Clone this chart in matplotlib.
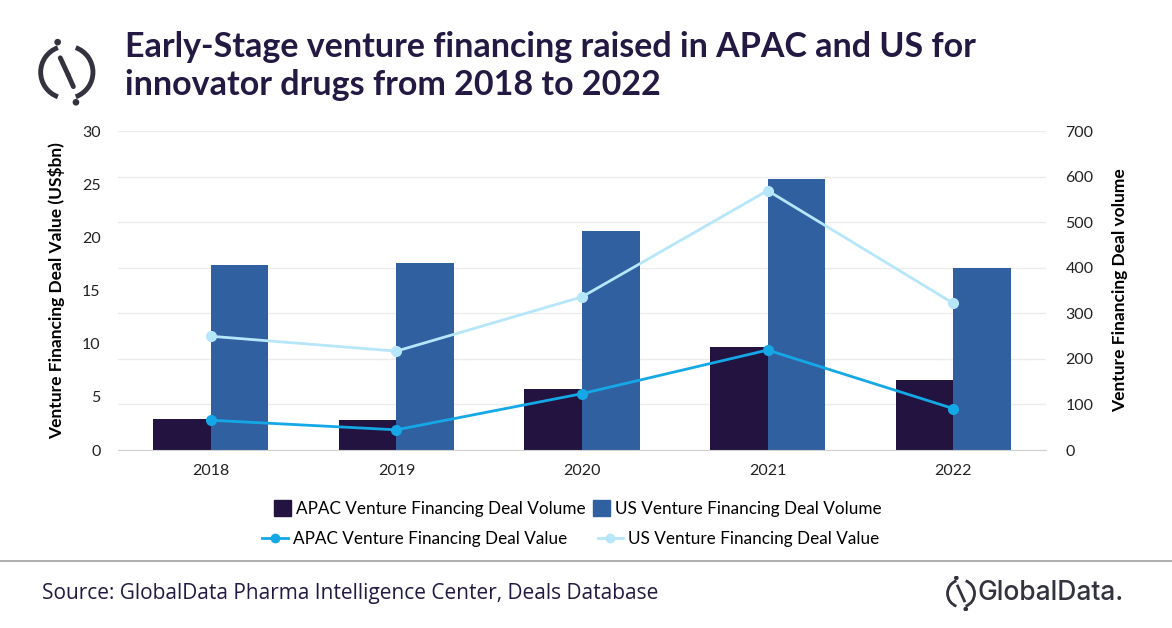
import numpy as np
import matplotlib.pyplot as plt
from matplotlib.patches import Arc, Circle
from matplotlib.lines import Line2D

years = ['2018', '2019', '2020', '2021', '2022']
# deal volume (number of deals) - bars, right axis
apac_volume = [68, 66, 134, 226, 154]
us_volume = [406, 410, 481, 595, 400]
# deal value (US$bn) - lines, left axis
apac_value = [2.8, 1.9, 5.3, 9.4, 3.9]
us_value = [10.7, 9.3, 14.4, 24.4, 13.8]

c_apac_bar = '#231340'
c_us_bar = '#3160a1'
c_apac_line = '#14a8e6'
c_us_line = '#b5e6fa'
c_title = '#231942'

plt.rcParams['font.family'] = ['Lato', 'DejaVu Sans']

fig = plt.figure(figsize=(11.72, 6.28), dpi=100)
ax = fig.add_axes([0.1007, 0.2834, 0.7918, 0.508])
ax2 = ax.twinx()

x = np.arange(len(years))
w = 0.31
ax2.bar(x - w / 2, apac_volume, w, color=c_apac_bar, zorder=2)
ax2.bar(x + w / 2, us_volume, w, color=c_us_bar, zorder=2)
ax2.set_ylim(0, 700)
ax2.set_yticks(range(0, 701, 100))

# lines on top of the bars
ax.set_zorder(ax2.get_zorder() + 1)
ax.patch.set_visible(False)
ax.plot(x, apac_value, color=c_apac_line, lw=2, marker='o', ms=7, zorder=3)
ax.plot(x, us_value, color=c_us_line, lw=2, marker='o', ms=7, zorder=3)
ax.set_ylim(0, 30)
ax.set_yticks(range(0, 31, 5))
ax.set_xlim(-0.5, 4.5)
ax.set_xticks(x)
ax.set_xticklabels(years)

for a in (ax, ax2):
    for s in a.spines.values():
        s.set_visible(False)
    a.tick_params(length=0, labelsize=11.5, colors='#222222')
ax.spines['bottom'].set_visible(True)
ax.spines['bottom'].set_color('#d0d0d0')
ax2.yaxis.grid(True, color='#ececec', lw=1, zorder=0)
ax2.set_axisbelow(True)
ax.tick_params(axis='x', pad=10)
ax.tick_params(axis='y', pad=12.5)
ax2.tick_params(axis='y', pad=14)

ax.set_ylabel('Venture Financing Deal Value (US$bn)', fontsize=12.5, fontweight='bold')
ax.yaxis.set_label_coords(-0.057, 0.5)
ax2.set_ylabel('Venture Financing Deal volume', fontsize=12.5, fontweight='bold')
ax2.yaxis.set_label_coords(1.071, 0.5)

# title
fig.text(0.107, 0.895, 'Early-Stage venture financing raised in APAC and US for\ninnovator drugs from 2018 to 2022',
         fontsize=24.5, fontweight='bold', color=c_title, va='center', ha='left', linespacing=1.2)

# logo top-left
lax = fig.add_axes([0.028, 0.83, 0.058, 0.11])
lax.set_xlim(-1.3, 1.3)
lax.set_ylim(-1.3, 1.3)
lax.set_aspect('equal')
lax.axis('off')
lax.add_patch(Arc((0, 0), 2, 2, theta1=110, theta2=250, lw=3.5, color='#333340'))
lax.add_patch(Arc((0, 0), 2, 2, theta1=-70, theta2=70, lw=3.5, color='#333340'))
lax.plot([-0.25, 0.05], [0.55, -0.1], color='#333340', lw=3.5, solid_capstyle='round')
lax.plot([0.05, 0.25], [-0.1, -0.55], color='#333340', lw=3.5, solid_capstyle='round')
lax.add_patch(Circle((-0.35, 1.15), 0.1, color='#333340'))
lax.add_patch(Circle((0.35, -1.15), 0.1, color='#333340'))

# legend, two rows
handles1 = [plt.Rectangle((0, 0), 1, 1, color=c_apac_bar),
            plt.Rectangle((0, 0), 1, 1, color=c_us_bar)]
labels1 = ['APAC Venture Financing Deal Volume', 'US Venture Financing Deal Volume']
handles2 = [Line2D([], [], color=c_apac_line, lw=2, marker='o', ms=6),
            Line2D([], [], color=c_us_line, lw=2, marker='o', ms=6)]
labels2 = ['APAC Venture Financing Deal Value', 'US Venture Financing Deal Value']
fig.legend(handles1, labels1, loc='center', bbox_to_anchor=(0.493, 0.19), ncol=2, frameon=False,
           fontsize=12.3, handlelength=1.0, handleheight=1.0, handletextpad=0.3, columnspacing=0.4)
fig.legend(handles2, labels2, loc='center', bbox_to_anchor=(0.487, 0.142), ncol=2, frameon=False,
           fontsize=12.3, handlelength=1.5, handletextpad=0.3, columnspacing=1.8)

# separator and footer
fig.add_artist(Line2D([0, 1], [0.107, 0.107], transform=fig.transFigure, color='#a0a0a0', lw=1.2))
fig.text(0.036, 0.055, 'Source: GlobalData Pharma Intelligence Center, Deals Database',
         fontsize=15, color=c_title, va='center', ha='left', family=['Open Sans', 'DejaVu Sans'])

gax = fig.add_axes([0.805, 0.025, 0.03, 0.06])
gax.set_xlim(-1.3, 1.3)
gax.set_ylim(-1.3, 1.3)
gax.set_aspect('equal')
gax.axis('off')
gax.add_patch(Arc((0, 0), 2, 2, theta1=110, theta2=250, lw=2, color='#333340'))
gax.add_patch(Arc((0, 0), 2, 2, theta1=-70, theta2=70, lw=2, color='#333340'))
gax.plot([-0.25, 0.25], [0.55, -0.55], color='#333340', lw=2)
gax.add_patch(Circle((-0.35, 1.15), 0.12, color='#333340'))
gax.add_patch(Circle((0.35, -1.15), 0.12, color='#333340'))
fig.text(0.834, 0.055, 'GlobalData.', fontsize=19, color='#333340', va='center', ha='left',
         family=['Inter', 'DejaVu Sans'], fontweight='medium')

fig.savefig('out.png', dpi=100)
